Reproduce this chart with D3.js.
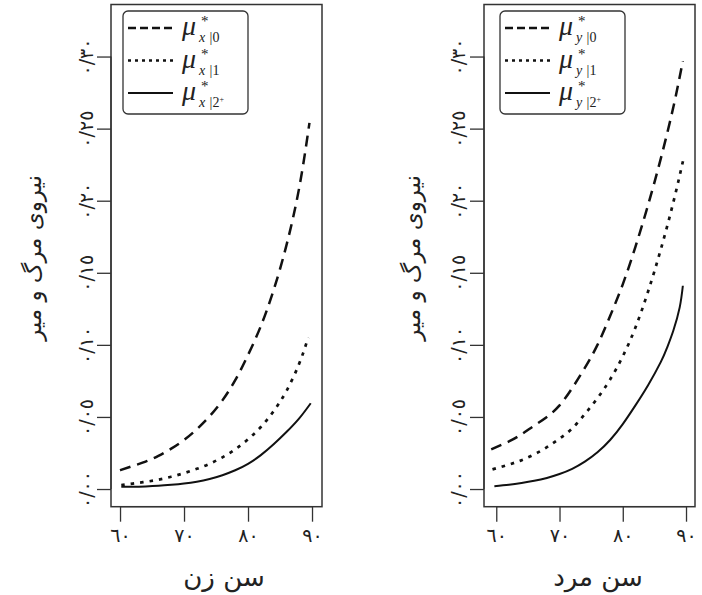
<!DOCTYPE html>
<html>
<head>
<meta charset="utf-8">
<script src="https://cdn.jsdelivr.net/npm/d3@7"></script>
<style>
  html, body { margin: 0; padding: 0; background: #fff; }
  svg { display: block; }
  .fa { font-family: "DejaVu Sans", "Noto Sans", sans-serif; fill: #222; }
  .lg { font-family: "Liberation Serif", "DejaVu Serif", serif; font-style: italic; fill: #222; }
</style>
</head>
<body>
<svg id="chart" width="702" height="595"></svg>
<script>
// ---------- data ----------
const xTicks = [60, 70, 80, 90];
const xTickLabels = ["٦٠", "٧٠", "٨٠", "٩٠"];
const yTicks = [0, 0.05, 0.10, 0.15, 0.20, 0.25, 0.30];
const yTickLabels = ["٠/٠٠", "٠/٠٥", "٠/١٠", "٠/١٥", "٠/٢٠", "٠/٢٥", "٠/٣٠"];
const yTitle = "نیروی مرگ و میر";
const xTitles = ["سن زن", "سن مرد"];
const legendSubs = [["x", "0", ""], ["x", "1", ""], ["x", "2", "+"], ["y", "0", ""], ["y", "1", ""], ["y", "2", "+"]];

// women (left panel)
const fAges0 = [60, 62, 64, 66, 68, 70, 72, 74, 76, 78, 80, 82, 84, 86, 88, 89.6];
const f0 = [0.013, 0.016, 0.019, 0.023, 0.028, 0.034, 0.0415, 0.0505, 0.0615, 0.0755, 0.093, 0.113, 0.138, 0.169, 0.209, 0.254];
const fAges1 = [60.2, 62, 64, 66, 68, 70, 72, 74, 76, 78, 80, 82, 84, 86, 88, 89.4];
const f1 = [0.0028, 0.0038, 0.005, 0.0065, 0.0085, 0.011, 0.014, 0.0175, 0.022, 0.0275, 0.0345, 0.043, 0.054, 0.068, 0.087, 0.105];
const fAges2 = [60.2, 62, 64, 66, 68, 70, 72, 74, 76, 78, 80, 82, 84, 86, 88, 89.8];
const f2 = [0.0016, 0.0016, 0.0018, 0.0022, 0.0029, 0.0038, 0.0051, 0.007, 0.0096, 0.013, 0.0175, 0.0235, 0.031, 0.0395, 0.049, 0.0595];

// men (right panel)
const mAges0 = [59.2, 62, 64, 66, 68, 70, 72, 74, 76, 78, 80, 82, 84, 86, 88, 89.5];
const m0 = [0.0275, 0.033, 0.038, 0.044, 0.050, 0.058, 0.070, 0.084, 0.100, 0.120, 0.142, 0.168, 0.197, 0.229, 0.265, 0.297];
const mAges1 = [59.4, 62, 64, 66, 68, 70, 72, 74, 76, 78, 80, 82, 84, 86, 88, 89.7];
const m1 = [0.0136, 0.017, 0.020, 0.024, 0.029, 0.035, 0.042, 0.052, 0.063, 0.076, 0.092, 0.112, 0.137, 0.166, 0.199, 0.231];
const mAges2 = [59.7, 62, 64, 66, 68, 70, 72, 74, 76, 78, 80, 82, 84, 86, 87, 88, 89, 89.5];
const m2 = [0.002, 0.003, 0.0042, 0.0057, 0.0077, 0.0104, 0.014, 0.019, 0.0255, 0.034, 0.045, 0.058, 0.072, 0.088, 0.098, 0.110, 0.126, 0.141];

// ---------- layout ----------
const svg = d3.select("#chart");
svg.append("rect").attr("width", 702).attr("height", 595).attr("fill", "#fff");

const styles = [
  { dash: "11,7", width: 2.5 },
  { dash: "3.5,6", width: 2.7 },
  { dash: null, width: 2 }
];

const panels = [
  { left: 111, right: 322, xDomain: [58.59, 91.56], yTitleX: 33, tickLabX: 86, xTitleX: 224,
    series: [[fAges0, f0], [fAges1, f1], [fAges2, f2]], legendX: 123, subs: legendSubs.slice(0, 3), title: xTitles[0] },
  { left: 484, right: 695, xDomain: [58.06, 91.42], yTitleX: 412, tickLabX: 458, xTitleX: 598,
    series: [[mAges0, m0], [mAges1, m1], [mAges2, m2]], legendX: 500, subs: legendSubs.slice(3, 6), title: xTitles[1] }
];

const plotTop = 4.5, plotBottom = 506.7;
const y = d3.scaleLinear().domain([-0.01226, 0.3361]).range([plotBottom, plotTop]);

panels.forEach(p => {
  const x = d3.scaleLinear().domain(p.xDomain).range([p.left, p.right]);
  const g = svg.append("g");

  // curves
  p.series.forEach((s, i) => {
    const pts = s[0].map((a, k) => [a, s[1][k]]);
    const line = d3.line().x(d => x(d[0])).y(d => y(d[1])).curve(d3.curveNatural);
    g.append("path").attr("d", line(pts))
      .attr("fill", "none").attr("stroke", "#111")
      .attr("stroke-width", styles[i].width)
      .attr("stroke-dasharray", styles[i].dash)
      .attr("stroke-linecap", "butt");
  });

  // box
  g.append("rect").attr("x", p.left).attr("y", plotTop).attr("width", p.right - p.left).attr("height", plotBottom - plotTop)
    .attr("fill", "none").attr("stroke", "#333").attr("stroke-width", 1.5);

  // x axis
  const xa = d3.axisBottom(x).tickValues(xTicks).tickSize(15).tickFormat((d, i) => xTickLabels[i]);
  const xg = g.append("g").attr("transform", `translate(0,${plotBottom})`).call(xa);
  xg.select(".domain").attr("d", `M${x(xTicks[0])},0H${x(xTicks[xTicks.length - 1])}`).attr("stroke", "#333").attr("stroke-width", 1.3);
  xg.selectAll(".tick line").attr("stroke", "#333").attr("stroke-width", 1.3);
  xg.selectAll(".tick text").attr("class", "fa").attr("y", 22).attr("dy", "0.71em").style("font-size", "19px");

  // y axis
  const ya = d3.axisLeft(y).tickValues(yTicks).tickSize(14).tickFormat((d, i) => yTickLabels[i]);
  const yg = g.append("g").attr("transform", `translate(${p.left},0)`).call(ya);
  yg.select(".domain").attr("d", `M0,${y(0)}V${y(0.30)}`).attr("stroke", "#333").attr("stroke-width", 1.3);
  yg.selectAll(".tick line").attr("stroke", "#333").attr("stroke-width", 1.3);
  yg.selectAll(".tick text")
    .attr("class", "fa")
    .attr("x", null).attr("dy", null)
    .attr("text-anchor", "middle")
    .attr("dominant-baseline", "central")
    .attr("transform", `translate(${p.tickLabX - p.left},0) rotate(-90)`)
    .style("font-size", "19px");

  // titles
  g.append("text").attr("class", "fa")
    .attr("transform", `translate(${p.yTitleX},258) rotate(-90)`)
    .attr("text-anchor", "middle").attr("dominant-baseline", "central")
    .style("font-size", "23px").text(yTitle);
  g.append("text").attr("class", "fa")
    .attr("x", p.xTitleX).attr("y", 586)
    .attr("text-anchor", "middle")
    .style("font-size", "26px").text(p.title);

  // legend
  const lg = g.append("g").attr("transform", `translate(${p.legendX},11)`);
  lg.append("rect").attr("width", 125).attr("height", 103).attr("rx", 5)
    .attr("fill", "#fff").attr("stroke", "#333").attr("stroke-width", 1.3);
  p.subs.forEach((sb, i) => {
    const ly = 17 + i * 32.5;
    lg.append("line").attr("x1", 5).attr("x2", 50).attr("y1", ly).attr("y2", ly)
      .attr("stroke", "#111").attr("stroke-width", styles[i].width)
      .attr("stroke-dasharray", i === 0 ? "8,4" : (i === 1 ? "3,4" : null));
    const t = lg.append("text").attr("class", "lg").attr("x", 59).attr("y", ly + 7).style("font-size", "28px");
    t.append("tspan").text("μ");
    lg.append("text").attr("class", "lg").attr("x", 78).attr("y", ly - 2).style("font-size", "15px").style("font-style", "normal").text("*");
    const st = lg.append("text").attr("class", "lg").attr("x", 76).attr("y", ly + 14).style("font-size", "14px");
    st.append("tspan").text(sb[0] + " |");
    st.append("tspan").style("font-style", "normal").text(sb[1]);
    if (sb[2]) st.append("tspan").attr("dy", -5).style("font-size", "8px").style("font-style", "normal").text(sb[2]);
  });
});
</script>
</body>
</html>
